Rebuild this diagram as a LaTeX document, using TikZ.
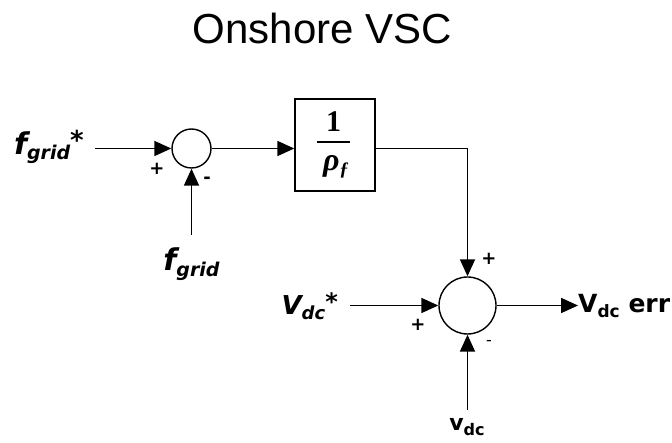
\documentclass[tikz,border=0pt]{standalone}
\usepackage{fontspec}
\setmainfont{DejaVu Sans}
\newfontfamily\titlefont{Liberation Sans}
\newfontfamily\seriffont{Liberation Serif}
\usetikzlibrary{arrows.meta}
\newcommand\fs[1]{\fontsize{#1}{#1}\selectfont}
\newcommand\lowsub[2]{\raisebox{-0.35ex}{\fs{#1}#2}}
\begin{document}
\begin{tikzpicture}[x=1pt,y=-1pt,
  arr/.style={line width=1.8pt,-{Triangle[length=17pt,width=15pt]}},
  sumnode/.style={circle,draw,line width=1.4pt,inner sep=0pt},
  blockbox/.style={draw,line width=1.4pt,inner sep=0pt},
  lbl/.style={inner sep=0pt,font=\bfseries\itshape},
  sign/.style={inner sep=0pt,font=\bfseries\fs{18}}]
\useasboundingbox (0,0) rectangle (672,443);
\node[inner sep=0pt,font=\titlefont\fs{42}] (title) at (322.5,28) {Onshore VSC};
\node[sumnode,minimum size=39pt] (s1) at (191.5,148.5) {};
\node[sumnode,minimum size=57pt] (s2) at (467.5,305.5) {};
\node[blockbox,minimum width=80pt,minimum height=92pt] (b) at (335,145) {};
\node[inner sep=0pt,font=\seriffont\bfseries\fs{30}] (one) at (333.5,122) {1};
\coordinate (barl) at (317,142);
\coordinate (barr) at (350,142);
\draw[line width=1.4pt] (barl) -- (barr);
\node[inner sep=0pt,font=\seriffont\bfseries\itshape\fs{32}] (rho) at (336,167) {ρ\lowsub{19}{ƒ}};
% inputs
\coordinate (fin) at (95,148.5);
\node[lbl,anchor=east] (fstar) at (84,147) {\fs{30}f\lowsub{19}{grid}\raisebox{0.3ex}{\fs{26}*}};
\draw[arr] (fin) -- (s1.west);
\coordinate (fb) at (191.5,235);
\node[lbl] (fgrid) at (191.5,264) {\fs{30}f\lowsub{19}{grid}};
\draw[arr] (fb) -- (s1.south);
\draw[arr] (s1.east) -- (s1.east -| b.west);
\draw[arr] (s1.east -| b.east) -| (s2.north);
\coordinate (vin) at (350,305.5);
\node[lbl,anchor=east] (vstar) at (338,306) {\fs{26}V\lowsub{18}{dc}\raisebox{0.3ex}{\fs{24}*}};
\draw[arr] (vin) -- (s2.west);
\coordinate (vb) at (467.5,410);
\node[inner sep=0pt,font=\bfseries] (vdc) at (467,427) {\fs{22}v\lowsub{16}{dc}};
\draw[arr] (vb) -- (s2.south);
\node[inner sep=0pt,anchor=west,font=\bfseries] (out) at (578,306) {\fs{25}V\lowsub{17}{dc} err};
\draw[arr] (s2.east) -- (s2.east -| out.west);
% signs
\node[sign] (p1) at (157,169) {+};
\node[sign] (m1) at (207,180) {-};
\node[sign] (p2) at (489,259) {+};
\node[sign] (p3) at (418,325) {+};
\node[sign,font=\fs{16}] (m2) at (489,343) {-};
\end{tikzpicture}
\end{document}
